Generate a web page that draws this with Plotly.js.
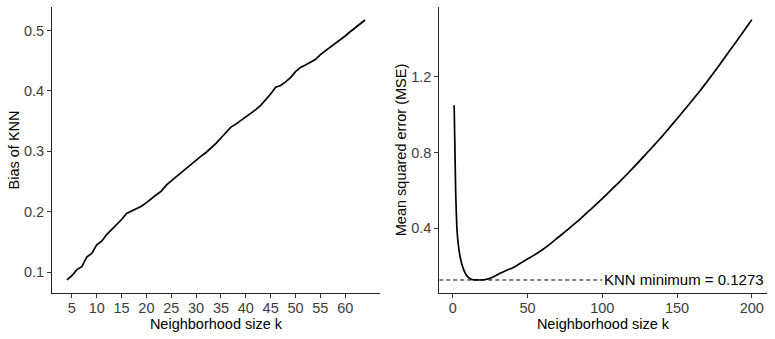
<!DOCTYPE html>
<html>
<head>
<meta charset="utf-8">
<script src="https://cdn.plot.ly/plotly-3.0.1.min.js"></script>
<style>
  html, body { margin: 0; padding: 0; background: #fff; }
  #chart { width: 775px; height: 339px; }
</style>
</head>
<body>
<div id="chart"></div>
<script>
// left panel: bias of KNN for k = 4..64
var biasK = [];
for (var i = 4; i <= 64; i++) biasK.push(i);
var biasValues = [
  0.087, 0.094, 0.104, 0.109, 0.125, 0.131, 0.145, 0.151, 0.162, 0.170,
  0.178, 0.187, 0.197, 0.201, 0.204, 0.209, 0.215, 0.222, 0.228, 0.234,
  0.244, 0.251, 0.258, 0.265, 0.271, 0.278, 0.286, 0.292, 0.298, 0.305,
  0.313, 0.322, 0.331, 0.340, 0.345, 0.351, 0.356, 0.362, 0.369, 0.376,
  0.385, 0.395, 0.406, 0.409, 0.415, 0.422, 0.432, 0.439, 0.443, 0.447,
  0.452, 0.460, 0.466, 0.472, 0.479, 0.485, 0.491, 0.498, 0.504, 0.511,
  0.5175
];

// right panel: MSE of KNN by neighbourhood size
var mseK = [
  1, 2, 3, 4, 5, 6, 7, 8, 9, 10, 11, 12, 13, 14, 16, 18, 20, 22, 25, 28,
  30, 32, 35, 38, 40, 43, 46, 50, 53, 56, 60, 65, 70, 75, 80, 85, 90, 95,
  100, 105, 110, 115, 120, 125, 130, 135, 140, 145, 150, 155, 160, 165,
  170, 175, 180, 185, 190, 195, 200
];
var mseValues = [
  1.05, 0.60, 0.38, 0.30, 0.25, 0.215, 0.19, 0.17, 0.155, 0.145, 0.138,
  0.133, 0.130, 0.128, 0.1275, 0.1273, 0.128, 0.130, 0.136, 0.147,
  0.155, 0.164, 0.175, 0.185, 0.191, 0.204, 0.219, 0.238, 0.252, 0.266,
  0.287, 0.317, 0.349, 0.381, 0.414, 0.448, 0.484, 0.520,
  0.557, 0.595, 0.634, 0.673, 0.714, 0.756, 0.799, 0.842, 0.886, 0.932,
  0.979, 1.026, 1.074, 1.123, 1.174, 1.227, 1.281, 1.336, 1.391, 1.446,
  1.502
];

var minMSE = 0.1273;
var minLabelK = 100;
var minLabel = 'KNN minimum = ' + minMSE;

var leftXTicks = [5, 10, 15, 20, 25, 30, 35, 40, 45, 50, 55, 60];
var leftYTicks = [0.1, 0.2, 0.3, 0.4, 0.5];
var rightXTicks = [0, 50, 100, 150, 200];
var rightYTicks = [0.4, 0.8, 1.2];
var rightYLabels = ['0.4', '0.8', '1.2'];

var xRangeL = [1, 67];
var yRangeL = [0.0653, 0.539];
var xRangeR = [-8.95, 209.95];
var yRangeR = [0.0586, 1.569];

var font = 'Liberation Sans, Arial, sans-serif';
var titleFont = { family: font, size: 14.5, color: '#000' };

var traces = [
  {
    x: biasK, y: biasValues, mode: 'lines', xaxis: 'x', yaxis: 'y',
    line: { color: '#000', width: 1.7 }, hoverinfo: 'skip'
  },
  {
    x: [xRangeR[0], minLabelK], y: [minMSE, minMSE], mode: 'lines',
    xaxis: 'x2', yaxis: 'y2',
    line: { color: '#000', width: 1, dash: '4px,3px' }, hoverinfo: 'skip'
  },
  {
    x: mseK, y: mseValues, mode: 'lines', xaxis: 'x2', yaxis: 'y2',
    line: { color: '#000', width: 1.7, shape: 'spline', smoothing: 0.5 },
    hoverinfo: 'skip'
  }
];

function axis(extra) {
  var base = {
    showgrid: false, zeroline: false, showline: true,
    linecolor: '#222', linewidth: 1,
    ticks: 'outside', ticklen: 4, tickwidth: 1, tickcolor: '#333',
    tickfont: { family: font, size: 14.5, color: '#3d3d3d' },
    fixedrange: true
  };
  for (var key in extra) base[key] = extra[key];
  return base;
}

var layout = {
  width: 775,
  height: 339,
  margin: { l: 0, r: 0, t: 0, b: 0 },
  paper_bgcolor: '#fff',
  plot_bgcolor: '#fff',
  showlegend: false,
  font: { family: font, color: '#000' },
  xaxis: axis({
    domain: [0.0671, 0.4903], range: xRangeL, anchor: 'y',
    tickvals: leftXTicks, ticklabelstandoff: -2,
    title: { text: 'Neighborhood size k', font: titleFont, standoff: 2 }
  }),
  yaxis: axis({
    domain: [0.1357, 0.9794], range: yRangeL, anchor: 'x',
    tickvals: leftYTicks, ticktext: leftYTicks.map(function (v) { return v.toFixed(1); }),
    title: { text: 'Bias of KNN', font: titleFont, standoff: 0 }
  }),
  xaxis2: axis({
    domain: [0.5668, 0.9893], range: xRangeR, anchor: 'y2',
    tickvals: rightXTicks, ticklabelstandoff: -2,
    title: { text: 'Neighborhood size k', font: titleFont, standoff: 2 }
  }),
  yaxis2: axis({
    domain: [0.1357, 0.9794], range: yRangeR, anchor: 'x2',
    tickvals: rightYTicks, ticktext: rightYLabels,
    title: { text: 'Mean squared error (MSE)', font: titleFont, standoff: 1 }
  }),
  annotations: [
    {
      x: minLabelK, y: minMSE, xref: 'x2', yref: 'y2',
      text: minLabel, showarrow: false, xanchor: 'left', yanchor: 'middle',
      font: { family: font, size: 15, color: '#000' }
    }
  ]
};

Plotly.newPlot('chart', traces, layout, { displayModeBar: false, staticPlot: true });
</script>
</body>
</html>
